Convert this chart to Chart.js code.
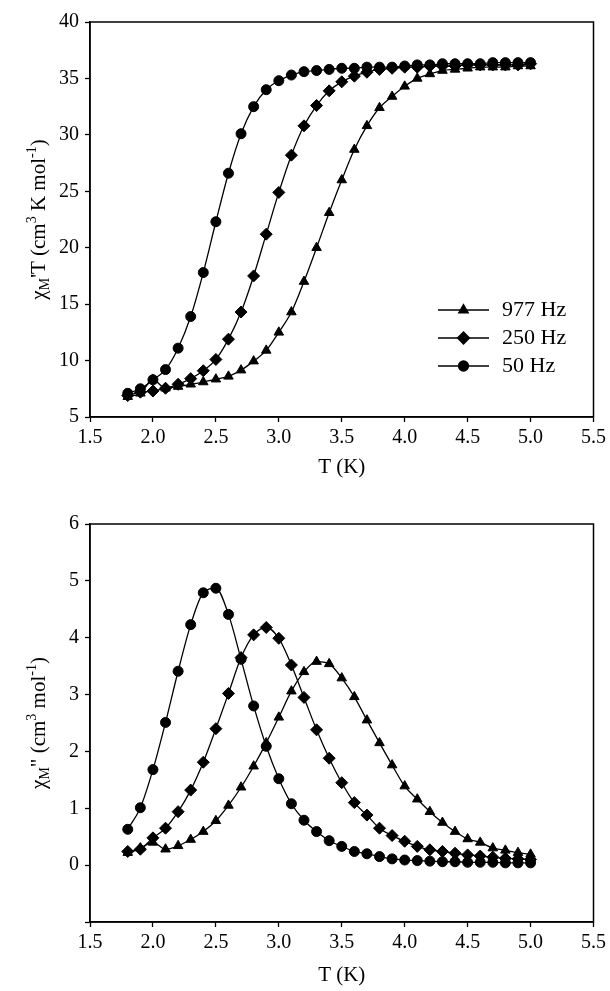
<!DOCTYPE html>
<html>
<head>
<meta charset="utf-8">
<script src="https://cdn.jsdelivr.net/npm/chart.js@4.4.1/dist/chart.umd.min.js"></script>
<style>
  html, body { margin: 0; padding: 0; background: #fff; }
  #wrap { position: relative; width: 610px; height: 991px; }
  canvas { position: absolute; left: 0; }
  #topChart { top: 0; }
  #bottomChart { top: 495px; }
</style>
</head>
<body>
<div id="wrap">
  <canvas id="topChart" width="610" height="495"></canvas>
  <canvas id="bottomChart" width="610" height="496"></canvas>
</div>
<script>
// Temperatures (K), shared by all series
const temps = [1.8, 1.9, 2.0, 2.1, 2.2, 2.3, 2.4, 2.5, 2.6, 2.7, 2.8, 2.9, 3.0, 3.1, 3.2, 3.3, 3.4,
               3.5, 3.6, 3.7, 3.8, 3.9, 4.0, 4.1, 4.2, 4.3, 4.4, 4.5, 4.6, 4.7, 4.8, 4.9, 5.0];

const seriesLabels = ['977 Hz', '250 Hz', '50 Hz'];
const pointStyles = ['triangle', 'rectRot', 'circle'];
const pointSizes = [5.5, 6, 5];

// chi_M' T (cm3 K mol-1)
const inPhase977 = [6.8, 7.1, 8.3, 7.55, 7.7, 7.9, 8.1, 8.35, 8.6, 9.15, 9.95, 10.9, 12.5, 14.3, 17.0, 20.0, 23.1,
                    26.0, 28.7, 30.8, 32.4, 33.4, 34.3, 35.0, 35.4, 35.7, 35.8, 35.9, 36.0, 36.0, 36.0, 36.1, 36.1];
const inPhase250 = [6.9, 7.2, 7.3, 7.55, 7.9, 8.4, 9.1, 10.1, 11.9, 14.3, 17.5, 21.2, 24.9, 28.2, 30.8, 32.6, 33.9,
                    34.7, 35.2, 35.55, 35.8, 35.9, 36.0, 36.0, 36.1, 36.1, 36.1, 36.2, 36.2, 36.2, 36.2, 36.2, 36.3];
const inPhase50  = [7.1, 7.5, 8.3, 9.2, 11.1, 13.9, 17.8, 22.3, 26.6, 30.1, 32.5, 34.0, 34.8, 35.3, 35.6, 35.7, 35.8,
                    35.9, 35.9, 36.0, 36.0, 36.0, 36.1, 36.2, 36.2, 36.3, 36.3, 36.3, 36.3, 36.4, 36.4, 36.4, 36.4];

// chi_M'' (cm3 mol-1)
const outPhase977 = [0.22, 0.30, 0.40, 0.28, 0.34, 0.45, 0.59, 0.78, 1.05, 1.37, 1.74, 2.15, 2.60, 3.06, 3.40, 3.58, 3.54,
                     3.29, 2.96, 2.55, 2.15, 1.76, 1.39, 1.16, 0.94, 0.75, 0.59, 0.46, 0.40, 0.30, 0.26, 0.22, 0.19];
const outPhase250 = [0.24, 0.28, 0.48, 0.65, 0.94, 1.32, 1.81, 2.40, 3.02, 3.65, 4.05, 4.18, 3.99, 3.52, 2.95, 2.38, 1.88,
                     1.45, 1.10, 0.88, 0.65, 0.52, 0.42, 0.33, 0.27, 0.24, 0.21, 0.18, 0.16, 0.14, 0.12, 0.11, 0.10];
const outPhase50  = [0.63, 1.01, 1.68, 2.51, 3.41, 4.23, 4.79, 4.87, 4.41, 3.62, 2.80, 2.09, 1.52, 1.08, 0.79, 0.59, 0.43,
                     0.33, 0.24, 0.20, 0.15, 0.11, 0.09, 0.08, 0.07, 0.06, 0.06, 0.05, 0.05, 0.05, 0.04, 0.04, 0.04];

const FONT = '"Liberation Serif", "DejaVu Serif", serif';

// box round the plot area
const framePlugin = {
    id: 'frame',
    beforeDatasetsDraw(chart) {
        const a = chart.chartArea, ctx = chart.ctx;
        ctx.save();
        ctx.strokeStyle = '#000';
        ctx.lineWidth = 1.5;
        ctx.strokeRect(a.left, a.top, a.right - a.left, a.bottom - a.top);
        ctx.restore();
    }
};

// rotated y title with sub/superscripts
const richTitlePlugin = {
    id: 'richTitle',
    afterDraw(chart, args, opts) {
        if (!opts.parts) return;
        const ctx = chart.ctx, a = chart.chartArea;
        const size = opts.size;
        const base = size + 'px ' + FONT;
        const small = Math.round(size * 0.66) + 'px ' + FONT;
        let total = 0;
        const widths = opts.parts.map(p => {
            ctx.font = (p.sub || p.sup) ? small : base;
            const w = ctx.measureText(p.t).width;
            total += w;
            return w;
        });
        ctx.save();
        ctx.translate(opts.x, (a.top + a.bottom) / 2);
        ctx.rotate(-Math.PI / 2);
        ctx.fillStyle = '#000';
        ctx.textBaseline = 'alphabetic';
        let x = -total / 2;
        opts.parts.forEach((p, i) => {
            ctx.font = (p.sub || p.sup) ? small : base;
            const dy = p.sub ? size * 0.2 : (p.sup ? -size * 0.42 : 0);
            ctx.fillText(p.t, x, dy + size * 0.33);
            x += widths[i];
        });
        ctx.restore();
    }
};

// legend drawn inside the plot: short line with the marker on it
const lineLegendPlugin = {
    id: 'lineLegend',
    afterDatasetsDraw(chart, args, opts) {
        if (!opts.display) return;
        const ctx = chart.ctx, a = chart.chartArea;
        ctx.save();
        chart.data.datasets.forEach((ds, i) => {
            const y = a.top + opts.top + i * opts.rowGap;
            const x0 = a.left + opts.left;
            ctx.strokeStyle = '#000';
            ctx.lineWidth = 1.3;
            ctx.beginPath();
            ctx.moveTo(x0, y);
            ctx.lineTo(x0 + opts.lineLen, y);
            ctx.stroke();
            ctx.fillStyle = '#000';
            Chart.helpers.drawPoint(ctx, {
                pointStyle: ds.pointStyle, radius: ds.pointRadius, rotation: 0, borderWidth: 1
            }, x0 + opts.lineLen / 2, y);
            ctx.font = opts.size + 'px ' + FONT;
            ctx.textBaseline = 'middle';
            ctx.textAlign = 'left';
            ctx.fillText(ds.label, x0 + opts.lineLen + opts.gap, y);
        });
        ctx.restore();
    }
};

function buildDatasets(valueLists) {
    return valueLists.map((vals, i) => ({
        label: seriesLabels[i],
        data: temps.map((t, k) => ({ x: t, y: vals[k] })),
        borderColor: '#000',
        backgroundColor: '#000',
        borderWidth: 1.3,
        pointStyle: pointStyles[i],
        pointRadius: pointSizes[i],
        pointBackgroundColor: '#000',
        pointBorderColor: '#000',
        pointBorderWidth: 1,
        cubicInterpolationMode: 'monotone',
        fill: false
    }));
}

function makeChart(canvasId, cfg) {
    const axisGrid = {
        display: true,
        drawOnChartArea: false,
        drawTicks: true,
        tickLength: 5,
        tickWidth: 1.3,
        color: '#000'
    };
    return new Chart(document.getElementById(canvasId), {
        type: 'line',
        data: { datasets: buildDatasets(cfg.series) },
        options: {
            responsive: false,
            animation: false,
            layout: { padding: { top: cfg.padTop, right: 16, left: 0, bottom: 0 } },
            plugins: {
                legend: { display: false },
                tooltip: { enabled: false },
                richTitle: { parts: cfg.yTitle, x: 38, size: 21 },
                lineLegend: cfg.legend
            },
            scales: {
                x: {
                    type: 'linear',
                    min: 1.5,
                    max: 5.5,
                    afterFit: s => { s.height = cfg.xHeight; },
                    grid: axisGrid,
                    border: { display: true, color: '#000', width: 1.5 },
                    ticks: {
                        stepSize: 0.5,
                        maxRotation: 0,
                        padding: 4,
                        color: '#000',
                        font: { family: FONT, size: 20 },
                        callback: v => v.toFixed(1)
                    },
                    title: {
                        display: true,
                        text: 'T (K)',
                        color: '#000',
                        font: { family: FONT, size: 21 },
                        padding: { top: 0, bottom: cfg.xTitlePad }
                    }
                },
                y: {
                    type: 'linear',
                    min: cfg.yMin,
                    max: cfg.yMax,
                    afterFit: s => { s.width = 90; },
                    grid: axisGrid,
                    border: { display: true, color: '#000', width: 1.5 },
                    ticks: {
                        stepSize: cfg.yStep,
                        padding: 6,
                        color: '#000',
                        font: { family: FONT, size: 20 },
                        callback: v => (v < 0 ? '' : v)
                    }
                }
            }
        },
        plugins: [framePlugin, richTitlePlugin, lineLegendPlugin]
    });
}

makeChart('topChart', {
    series: [inPhase977, inPhase250, inPhase50],
    padTop: 22,
    xHeight: 78,
    xTitlePad: 15,
    yMin: 5, yMax: 40, yStep: 5,
    yTitle: [
        { t: 'χ' }, { t: 'M', sub: true }, { t: '\'T (cm' }, { t: '3', sup: true },
        { t: ' K mol' }, { t: '-1', sup: true }, { t: ')' }
    ],
    legend: { display: true, left: 348, top: 288, rowGap: 28, lineLen: 51, gap: 13, size: 22 }
});

makeChart('bottomChart', {
    series: [outPhase977, outPhase250, outPhase50],
    padTop: 29,
    xHeight: 69,
    xTitlePad: 3,
    yMin: -1, yMax: 6, yStep: 1,
    yTitle: [
        { t: 'χ' }, { t: 'M', sub: true }, { t: '" (cm' }, { t: '3', sup: true },
        { t: ' mol' }, { t: '-1', sup: true }, { t: ')' }
    ],
    legend: { display: false }
});
</script>
</body>
</html>
